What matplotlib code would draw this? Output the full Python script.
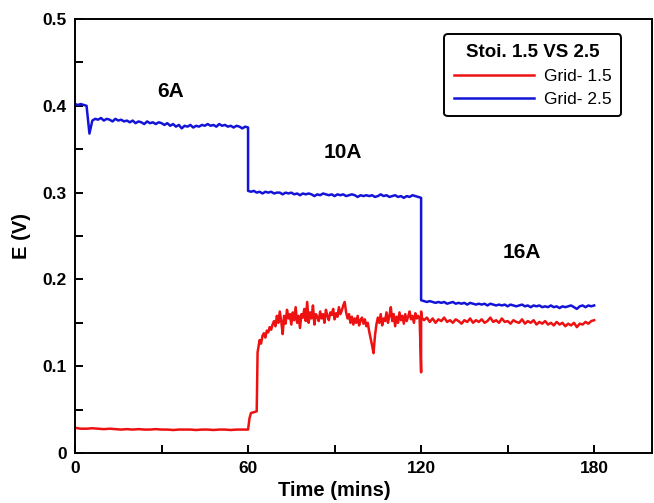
import numpy as np
import matplotlib.pyplot as plt
from matplotlib.ticker import FixedLocator, FuncFormatter

plt.rcParams['font.family'] = ['Liberation Sans', 'DejaVu Sans']

# Grid- 2.5 (blue), one reading per minute, three current steps
blue_6a = [0.402, 0.401, 0.402, 0.401,
           0.400, 0.368, 0.383,
           0.385, 0.384, 0.386, 0.383, 0.385, 0.384, 0.382, 0.385, 0.383, 0.384,
           0.382, 0.383, 0.381, 0.383, 0.380, 0.382, 0.381, 0.379, 0.382, 0.380,
           0.381, 0.379, 0.381, 0.380, 0.378, 0.380, 0.377, 0.379, 0.376, 0.378,
           0.374, 0.377, 0.376, 0.378, 0.375, 0.377, 0.376, 0.378, 0.377, 0.379,
           0.377, 0.378, 0.376, 0.379, 0.377, 0.378, 0.376, 0.377, 0.375, 0.377,
           0.376, 0.374, 0.376, 0.375]
blue_10a = [0.302,
            0.301, 0.302, 0.300, 0.301, 0.299, 0.301, 0.300, 0.301, 0.299, 0.300,
            0.300, 0.298, 0.300, 0.299, 0.300, 0.298, 0.299, 0.297, 0.299, 0.298,
            0.299, 0.298, 0.296, 0.298, 0.297, 0.299, 0.298, 0.297, 0.298, 0.296,
            0.298, 0.297, 0.298, 0.296, 0.297, 0.298, 0.297, 0.295, 0.297, 0.296,
            0.297, 0.296, 0.297, 0.295, 0.296, 0.298, 0.296, 0.297, 0.295, 0.296,
            0.297, 0.295, 0.296, 0.294, 0.296, 0.295, 0.297, 0.296, 0.295, 0.294]
blue_16a = [0.176,
            0.175, 0.174, 0.175, 0.174, 0.173, 0.174, 0.173, 0.174, 0.172, 0.173,
            0.174, 0.172, 0.173, 0.172, 0.173, 0.171, 0.173, 0.172, 0.171, 0.172,
            0.171, 0.172, 0.170, 0.172, 0.171, 0.170, 0.171, 0.170, 0.171, 0.169,
            0.171, 0.170, 0.169, 0.170, 0.171, 0.169, 0.170, 0.168, 0.170, 0.169,
            0.170, 0.168, 0.169, 0.168, 0.170, 0.168, 0.169, 0.167, 0.169, 0.168,
            0.169, 0.170, 0.168, 0.166, 0.169, 0.170, 0.168, 0.170, 0.169, 0.170]

t_blue = np.concatenate([np.arange(0, 61), np.arange(60, 121), np.arange(120, 181)])
e_blue = np.array(blue_6a + blue_10a + blue_16a)

# Grid- 1.5 (red)
red_6a = [0.029, 0.028, 0.028, 0.0285, 0.028, 0.0275, 0.028, 0.0275, 0.027, 0.0275,
          0.027, 0.0275, 0.027, 0.027, 0.0275, 0.027, 0.027, 0.0265, 0.027, 0.027,
          0.027, 0.0265, 0.027, 0.027, 0.0265, 0.027, 0.027, 0.0265, 0.027, 0.027,
          0.027]
t_red_step = [60.5, 61, 62, 63, 63.3, 63.7]
red_step = [0.040, 0.046, 0.047, 0.048, 0.116, 0.124]
red_10a = [0.130, 0.126, 0.135, 0.138, 0.133, 0.141, 0.139, 0.145, 0.142, 0.148,
           0.152, 0.146, 0.158, 0.150, 0.163, 0.152, 0.137, 0.158, 0.149, 0.165,
           0.155, 0.160, 0.148, 0.162, 0.153, 0.168, 0.150, 0.158, 0.144, 0.160,
           0.156, 0.166, 0.152, 0.174, 0.150, 0.162, 0.155, 0.170, 0.148, 0.160,
           0.157, 0.152, 0.163, 0.155, 0.160, 0.150, 0.165, 0.158, 0.153, 0.162,
           0.159, 0.166, 0.154, 0.161, 0.157, 0.168, 0.160, 0.164, 0.170, 0.174,
           0.162, 0.155, 0.160, 0.150, 0.157, 0.148, 0.155, 0.150, 0.158, 0.147,
           0.153, 0.156, 0.149, 0.154, 0.146, 0.150, 0.140, 0.132, 0.124, 0.115,
           0.135, 0.148, 0.156, 0.150, 0.160, 0.147, 0.155, 0.152, 0.162, 0.150,
           0.158, 0.168, 0.152, 0.160, 0.146, 0.157, 0.150, 0.162, 0.153, 0.158,
           0.149, 0.160, 0.152, 0.157, 0.163, 0.154, 0.158, 0.150, 0.161, 0.155,
           0.158, 0.154]
t_red_spike = [120, 120, 120.2]
red_spike = [0.093, 0.163, 0.156]
red_16a = [0.153, 0.156, 0.151, 0.155, 0.150, 0.154, 0.152, 0.156, 0.151, 0.153,
           0.150, 0.154, 0.152, 0.149, 0.153, 0.151, 0.155, 0.150, 0.153, 0.151,
           0.154, 0.150, 0.152, 0.156, 0.151, 0.153, 0.150, 0.155, 0.151, 0.152,
           0.149, 0.153, 0.151, 0.150, 0.154, 0.149, 0.152, 0.150, 0.153, 0.148,
           0.151, 0.149, 0.152, 0.148, 0.150, 0.147, 0.151, 0.148, 0.150, 0.146,
           0.149, 0.147, 0.150, 0.145, 0.149, 0.148, 0.151, 0.149, 0.152, 0.153]

t_red = np.concatenate([np.arange(0, 61, 2), t_red_step, np.arange(64, 120, 0.5),
                        t_red_spike, np.arange(121, 181)])
e_red = np.array(red_6a + red_step + red_10a + red_spike + red_16a)

current_labels = ['6A', '10A', '16A']
current_pos = [(33, 0.416), (92.8, 0.346), (155, 0.231)]

fig = plt.figure(figsize=(6.54, 5.03), dpi=100)
ax = fig.add_axes([0.1147, 0.0994, 0.882, 0.8628])

ax.plot(t_red, e_red, color='#ee1111', linewidth=1.8, label='Grid- 1.5')
ax.plot(t_blue, e_blue, color='#1414d8', linewidth=1.8, label='Grid- 2.5')

for lab, (x, y) in zip(current_labels, current_pos):
    ax.text(x, y, lab, fontsize=15, fontweight='bold', ha='center', va='center')

ax.set_xlim(0, 200)
ax.set_ylim(0, 0.5)
ax.xaxis.set_major_locator(FixedLocator([0, 60, 120, 180]))
ax.xaxis.set_minor_locator(FixedLocator([30, 90, 150]))
ax.yaxis.set_major_locator(FixedLocator([0, 0.1, 0.2, 0.3, 0.4, 0.5]))
ax.yaxis.set_minor_locator(FixedLocator([0.05, 0.15, 0.25, 0.35, 0.45]))
ax.yaxis.set_major_formatter(FuncFormatter(lambda v, p: '%g' % round(v, 2)))
ax.tick_params(which='both', direction='in', length=6, width=1.4,
               top=False, right=False)
ax.tick_params(which='major', labelsize=12.5, pad=6)
for lbl in ax.get_xticklabels() + ax.get_yticklabels():
    lbl.set_fontweight('bold')
for s in ax.spines.values():
    s.set_linewidth(1.4)

ax.set_xlabel('Time (mins)', fontsize=14.5, fontweight='bold')
ax.xaxis.set_label_coords(0.45, -0.065)
ax.set_ylabel('E (V)', fontsize=14.5, fontweight='bold', labelpad=8)

leg = ax.legend(loc='upper right', bbox_to_anchor=(0.962, 0.985),
                title='Stoi. 1.5 VS 2.5', fontsize=12.5, handlelength=4.6,
                markerfirst=True, fancybox=True, framealpha=1,
                borderpad=0.55, labelspacing=0.45, handletextpad=0.6,
                title_fontproperties={'weight': 'bold', 'size': 13.5})
leg.get_frame().set_edgecolor('black')
leg.get_frame().set_linewidth(1.4)

fig.savefig('out.png', dpi=100)
